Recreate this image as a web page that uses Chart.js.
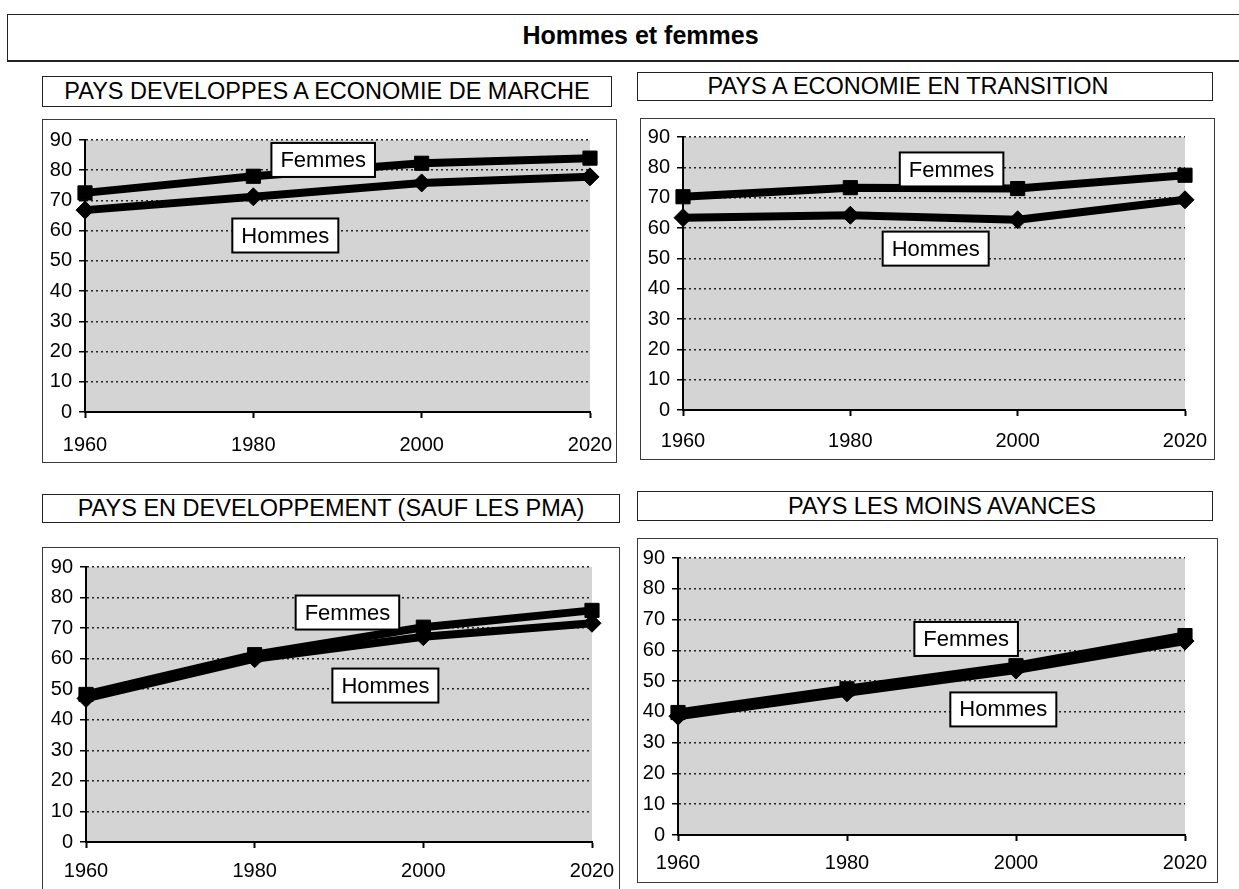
<!DOCTYPE html>
<html lang="fr">
<head>
<meta charset="utf-8">
<title>Hommes et femmes</title>
<script src="https://cdn.jsdelivr.net/npm/chart.js@4.4.1/dist/chart.umd.min.js"></script>
<style>
  html, body { margin: 0; padding: 0; background: #fff; }
  body {
    width: 1239px; height: 889px; position: relative; overflow: hidden;
    font-family: "Liberation Sans", Arial, sans-serif; color: #000;
  }
  .frame { position: absolute; box-sizing: border-box; border: 1px solid #3a3a3a; background: #fff; }
  .head {
    position: absolute; box-sizing: border-box; border: 1px solid #222;
    display: flex; align-items: center; justify-content: center;
    font-size: 23.5px; white-space: nowrap; background: #fff;
  }
  .main-title { font-weight: bold; font-size: 25px; border-width: 1px 0 2px 1px; padding-bottom: 4px; }
  canvas { position: absolute; }
</style>
</head>
<body>

<div class="head main-title" style="left:7px; top:14px; width:1266px; height:48px;">Hommes et femmes</div>

<div class="head" style="left:42px; top:76px; width:570px; height:31px;">PAYS DEVELOPPES A ECONOMIE DE MARCHE</div>
<div class="head" style="left:637px; top:72px; width:576px; height:29px; padding-right:34px;">PAYS A ECONOMIE EN TRANSITION</div>
<div class="head" style="left:42px; top:494px; width:578px; height:29px;">PAYS EN DEVELOPPEMENT (SAUF LES PMA)</div>
<div class="head" style="left:637px; top:491px; width:576px; height:30px; padding-left:34px;">PAYS LES MOINS AVANCES</div>

<div class="frame" id="f1"></div><canvas id="c1"></canvas>
<div class="frame" id="f2"></div><canvas id="c2"></canvas>
<div class="frame" id="f3"></div><canvas id="c3"></canvas>
<div class="frame" id="f4"></div><canvas id="c4"></canvas>

<script>
// Years on the horizontal axis and ticks of the vertical axis
const years = [1960, 1980, 2000, 2020];
const yTicks = [0, 10, 20, 30, 40, 50, 60, 70, 80, 90];

// Life expectancy at birth (years)
const femmesDeveloppes = [72.5, 78, 82.3, 84];
const hommesDeveloppes = [66.8, 71.2, 75.8, 77.8];

const femmesTransition = [70.3, 73.3, 73, 77.4];
const hommesTransition = [63.4, 64.2, 62.7, 69.3];

const femmesDeveloppement = [48.3, 61.3, 70.3, 75.8];
const hommesDeveloppement = [47, 60, 67.2, 71.6];

const femmesPMA = [39.8, 47.5, 55, 64.8];
const hommesPMA = [38.6, 46.2, 53.6, 63];

const seriesNames = ['Femmes', 'Hommes'];

const FONT = '"Liberation Sans", Arial, sans-serif';

// Grey plotting area behind the grid
const plotBackground = {
  id: 'plotBackground',
  beforeDraw(chart, args, opts) {
    const { ctx, chartArea: a } = chart;
    ctx.save();
    ctx.fillStyle = opts.color;
    ctx.fillRect(a.left, a.top, a.right - a.left, a.bottom - a.top);
    ctx.restore();
  }
};

// Boxed series names placed in data space
const seriesTags = {
  id: 'seriesTags',
  afterDatasetsDraw(chart, args, opts) {
    const { ctx, scales: { x, y } } = chart;
    ctx.save();
    ctx.font = opts.fontSize + 'px ' + FONT;
    ctx.textAlign = 'center';
    ctx.textBaseline = 'middle';
    (opts.items || []).forEach(t => {
      const cx = x.getPixelForValue(t.x);
      const cy = y.getPixelForValue(t.y);
      const w = ctx.measureText(t.text).width + 2 * opts.padX;
      const h = opts.height;
      ctx.fillStyle = '#fff';
      ctx.fillRect(cx - w / 2, cy - h / 2, w, h);
      ctx.lineWidth = 2;
      ctx.strokeStyle = '#000';
      ctx.strokeRect(cx - w / 2, cy - h / 2, w, h);
      ctx.fillStyle = '#000';
      ctx.fillText(t.text, cx, cy + 1);
    });
    ctx.restore();
  }
};

function toPoints(values) {
  return years.map((yr, i) => ({ x: yr, y: values[i] }));
}

function makePanel(id, femmes, hommes, tags, box, plot, labelLineHeight) {
  const frame = document.getElementById('f' + id);
  frame.style.left = box.left + 'px';
  frame.style.top = box.top + 'px';
  frame.style.width = box.width + 'px';
  frame.style.height = box.height + 'px';

  const canvas = document.getElementById('c' + id);
  canvas.style.left = box.left + 'px';
  canvas.style.top = box.top + 'px';
  canvas.width = box.width;
  canvas.height = box.height;

  const yAxisWidth = plot.left - box.left;
  const xAxisHeight = 42;

  new Chart(canvas, {
    type: 'line',
    data: {
      datasets: [
        {
          label: seriesNames[1],
          data: toPoints(hommes),
          borderColor: '#000',
          backgroundColor: '#000',
          borderWidth: 8,
          pointStyle: 'rectRot',
          pointRadius: 9,
          pointBorderWidth: 1,
          tension: 0,
          clip: false
        },
        {
          label: seriesNames[0],
          data: toPoints(femmes),
          borderColor: '#000',
          backgroundColor: '#000',
          borderWidth: 8,
          pointStyle: 'rect',
          pointRadius: 10,
          pointBorderWidth: 1,
          tension: 0,
          clip: false
        }
      ]
    },
    options: {
      responsive: false,
      animation: false,
      devicePixelRatio: 1,
      layout: {
        padding: {
          left: 0,
          top: plot.top - box.top,
          right: box.left + box.width - plot.right,
          bottom: box.top + box.height - plot.bottom - xAxisHeight
        }
      },
      plugins: {
        legend: { display: false },
        tooltip: { enabled: false },
        plotBackground: { color: '#d4d4d4' },
        seriesTags: { items: tags, fontSize: 22, padX: 9, height: 34 }
      },
      scales: {
        x: {
          type: 'linear',
          min: years[0],
          max: years[years.length - 1],
          afterBuildTicks: s => { s.ticks = years.map(v => ({ value: v })); },
          afterFit: s => { s.height = xAxisHeight; },
          ticks: {
            color: '#000',
            font: { family: FONT, size: 20, lineHeight: labelLineHeight },
            padding: 3,
            maxRotation: 0,
            callback: v => String(v)
          },
          grid: {
            drawOnChartArea: false,
            drawTicks: true,
            tickLength: 6,
            tickColor: '#000',
            tickWidth: 2
          },
          border: { display: true, color: '#000', width: 2 }
        },
        y: {
          min: 0,
          max: 90,
          afterBuildTicks: s => { s.ticks = yTicks.map(v => ({ value: v })); },
          afterFit: s => { s.width = yAxisWidth; },
          ticks: {
            color: '#000',
            font: { family: FONT, size: 20 },
            padding: 7
          },
          grid: {
            color: '#222',
            lineWidth: 1.5,
            drawTicks: true,
            tickLength: 6,
            tickColor: '#000',
            tickWidth: 1.5,
            tickBorderDash: []
          },
          border: { display: true, color: '#000', width: 2, dash: [2, 3] }
        }
      }
    },
    plugins: [plotBackground, seriesTags]
  });
}

makePanel(1, femmesDeveloppes, hommesDeveloppes,
  [{ text: 'Femmes', x: 1988.3, y: 83.4 }, { text: 'Hommes', x: 1983.8, y: 58.4 }],
  { left: 42, top: 119, width: 575, height: 344 },
  { left: 85, right: 590, top: 140, bottom: 412 }, 2.4);

makePanel(2, femmesTransition, hommesTransition,
  [{ text: 'Femmes', x: 1992.1, y: 79.3 }, { text: 'Hommes', x: 1990.2, y: 53.2 }],
  { left: 640, top: 118, width: 575, height: 342 },
  { left: 683, right: 1185, top: 137, bottom: 410 }, 2.2);

makePanel(3, femmesDeveloppement, hommesDeveloppement,
  [{ text: 'Femmes', x: 1991.0, y: 75.1 }, { text: 'Hommes', x: 1995.5, y: 51.2 }],
  { left: 42, top: 547, width: 578, height: 348 },
  { left: 86, right: 592, top: 567, bottom: 842 }, 2.0);

makePanel(4, femmesPMA, hommesPMA,
  [{ text: 'Femmes', x: 1994.1, y: 63.7 }, { text: 'Hommes', x: 1998.5, y: 40.8 }],
  { left: 637, top: 538, width: 581, height: 345 },
  { left: 678, right: 1185, top: 558, bottom: 835 }, 1.9);
</script>
</body>
</html>
